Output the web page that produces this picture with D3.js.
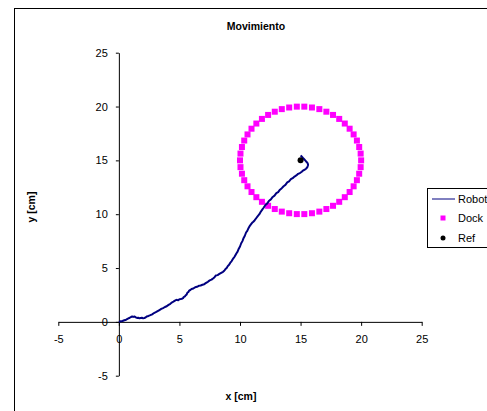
<!DOCTYPE html>
<html><head><meta charset="utf-8">
<script src="https://cdn.jsdelivr.net/npm/d3@7"></script>
<style>body{margin:0;background:#fff}svg{display:block;font-family:"Liberation Sans",Arial,sans-serif}</style>
</head><body><svg id="c" width="487" height="411"></svg>
<script>
const title = "Movimiento";
const xLabel = "x [cm]";
const yLabel = "y [cm]";
const tickValues = [-5, 0, 5, 10, 15, 20, 25];
const tickLabels = ["-5", "0", "5", "10", "15", "20", "25"];
const seriesNames = ["Robot", "Dock", "Ref"];

const robotX = [0,0.15,0.3,0.45,0.6,0.75,0.9,1.0,1.1,1.2,1.3,1.4,1.5,1.6,1.7,1.8,1.9,2.0,2.1,2.2,2.3,2.45,2.6,2.75,2.9,3.05,3.2,3.35,3.5,3.65,3.8,3.95,4.1,4.25,4.4,4.5,4.6,4.7,4.8,4.9,5.0,5.1,5.2,5.3,5.35,5.45,5.5,5.6,5.65,5.75,5.8,5.9,6.0,6.15,6.3,6.45,6.6,6.75,6.9,7.05,7.2,7.35,7.5,7.65,7.8,7.9,8.0,8.15,8.3,8.45,8.6,8.7,8.8,8.9,9.0,9.1,9.2,9.3,9.45,9.55,9.7,9.8,9.9,10.0,10.1,10.2,10.3,10.4,10.5,10.6,10.7,10.8,10.9,11.0,11.1,11.2,11.35,11.45,11.6,11.7,11.85,11.95,12.1,12.25,12.4,12.55,12.7,12.85,13.0,13.15,13.3,13.45,13.6,13.75,13.9,14.05,14.2,14.35,14.5,14.65,14.8,14.95,15.1,15.2,15.35,15.45,15.55,15.6,15.62,15.58,15.5,15.4,15.3,15.2,15.1,15.0];
const robotY = [0,0.06,0.08,0.15,0.2,0.3,0.38,0.45,0.5,0.46,0.5,0.42,0.36,0.38,0.33,0.36,0.38,0.33,0.36,0.4,0.5,0.55,0.62,0.7,0.82,0.9,1.0,1.1,1.2,1.28,1.38,1.45,1.58,1.68,1.82,1.88,1.95,2.02,2.05,2.0,2.1,2.12,2.15,2.2,2.3,2.36,2.45,2.55,2.7,2.78,2.9,2.96,3.05,3.1,3.22,3.26,3.35,3.38,3.45,3.5,3.62,3.72,3.85,3.92,4.05,4.15,4.3,4.34,4.45,4.55,4.65,4.75,4.9,5.0,5.2,5.3,5.5,5.62,5.9,6.05,6.35,6.52,6.8,7.0,7.3,7.5,7.8,8.0,8.3,8.45,8.7,8.9,9.05,9.2,9.3,9.42,9.65,9.8,10.0,10.2,10.45,10.6,10.85,11.0,11.25,11.38,11.6,11.72,11.95,12.05,12.28,12.42,12.6,12.72,12.95,13.05,13.25,13.35,13.5,13.6,13.75,13.82,13.95,14.05,14.15,14.22,14.35,14.5,14.6,14.75,14.85,14.98,15.1,15.22,15.35,15.45,15.5];

const dockX = [20.00,19.96,19.84,19.65,19.38,19.05,18.65,18.19,17.68,17.13,16.55,15.94,15.31,14.69,14.06,13.45,12.87,12.32,11.81,11.35,10.95,10.62,10.35,10.16,10.04,10.00,10.04,10.16,10.35,10.62,10.95,11.35,11.81,12.32,12.87,13.45,14.06,14.69,15.31,15.94,16.55,17.13,17.68,18.19,18.65,19.05,19.38,19.65,19.84,19.96];
const dockY = [15.00,15.63,16.24,16.84,17.41,17.94,18.42,18.85,19.22,19.52,19.76,19.91,19.99,19.99,19.91,19.76,19.52,19.22,18.85,18.42,17.94,17.41,16.84,16.24,15.63,15.00,14.37,13.76,13.16,12.59,12.06,11.58,11.15,10.78,10.48,10.24,10.09,10.01,10.01,10.09,10.24,10.48,10.78,11.15,11.58,12.06,12.59,13.16,13.76,14.37];

const refX = [15];
const refY = [15];

const svg = d3.select("#c");
svg.append("rect").attr("width",487).attr("height",411).attr("fill","#fff");
svg.append("rect").attr("x",14.5).attr("y",8.5).attr("width",600).attr("height",600)
  .attr("fill","none").attr("stroke","#000").attr("stroke-width",1);

const x = d3.scaleLinear().domain([-5,25]).range([58.3,421.7]);
const y = d3.scaleLinear().domain([-5,25]).range([375.7,52.7]);
const fmt = d => tickLabels[tickValues.indexOf(d)];

const xAxis = svg.append("g").attr("transform",`translate(0,${y(0)})`)
  .call(d3.axisBottom(x).tickValues(tickValues).tickSize(4).tickSizeOuter(0).tickPadding(9).tickFormat(fmt));
const yAxis = svg.append("g").attr("transform",`translate(${x(0)},0)`)
  .call(d3.axisLeft(y).tickValues(tickValues).tickSize(3).tickSizeOuter(0).tickPadding(8).tickFormat(fmt));
[xAxis,yAxis].forEach(g=>{
  g.selectAll("path").attr("stroke","#000");
  g.selectAll("line").attr("stroke","#000");
  g.selectAll("text").attr("font-size",11).attr("fill","#000").attr("font-family","Liberation Sans, Arial, sans-serif");
});

// Dock squares
const dock = dockX.map((d,i)=>({x:d,y:dockY[i]}));
svg.append("g").selectAll("rect").data(dock).join("rect")
  .attr("x",d=>x(d.x)-3).attr("y",d=>y(d.y)-3).attr("width",6).attr("height",6).attr("fill","#ff00ff");

// Robot line
const robot = robotX.map((d,i)=>({x:d,y:robotY[i]}));
svg.append("path").datum(robot)
  .attr("d",d3.line().x(d=>x(d.x)).y(d=>y(d.y)))
  .attr("fill","none").attr("stroke","#000080").attr("stroke-width",2).attr("stroke-linejoin","round");

// Ref
const ref = refX.map((d,i)=>({x:d,y:refY[i]}));
svg.append("g").selectAll("circle").data(ref).join("circle")
  .attr("cx",d=>x(d.x)).attr("cy",d=>y(d.y)).attr("r",3).attr("fill","#000");

// Titles
svg.append("text").attr("x",256).attr("y",30).attr("text-anchor","middle")
  .attr("font-size",10.5).attr("font-weight","bold").text(title);
svg.append("text").attr("x",241).attr("y",400).attr("text-anchor","middle")
  .attr("font-size",10.5).attr("font-weight","bold").text(xLabel);
svg.append("text").attr("transform","translate(35,207) rotate(-90)").attr("text-anchor","middle")
  .attr("font-size",10.5).attr("font-weight","bold").text(yLabel);

// Legend
const lg = svg.append("g");
lg.append("rect").attr("x",427.5).attr("y",188.5).attr("width",100).attr("height",59)
  .attr("fill","#fff").attr("stroke","#000");
const rows = [199,218,238];
lg.append("line").attr("x1",432).attr("x2",455).attr("y1",rows[0]).attr("y2",rows[0]).attr("stroke","#000080").attr("stroke-width",1);
lg.append("rect").attr("x",440.5).attr("y",rows[1]-2.5).attr("width",5).attr("height",5).attr("fill","#ff00ff");
lg.append("circle").attr("cx",443).attr("cy",rows[2]).attr("r",2.5).attr("fill","#000");
seriesNames.forEach((n,i)=>{
  lg.append("text").attr("x",458).attr("y",rows[i]+4).attr("font-size",11).text(n);
});
</script></body></html>
